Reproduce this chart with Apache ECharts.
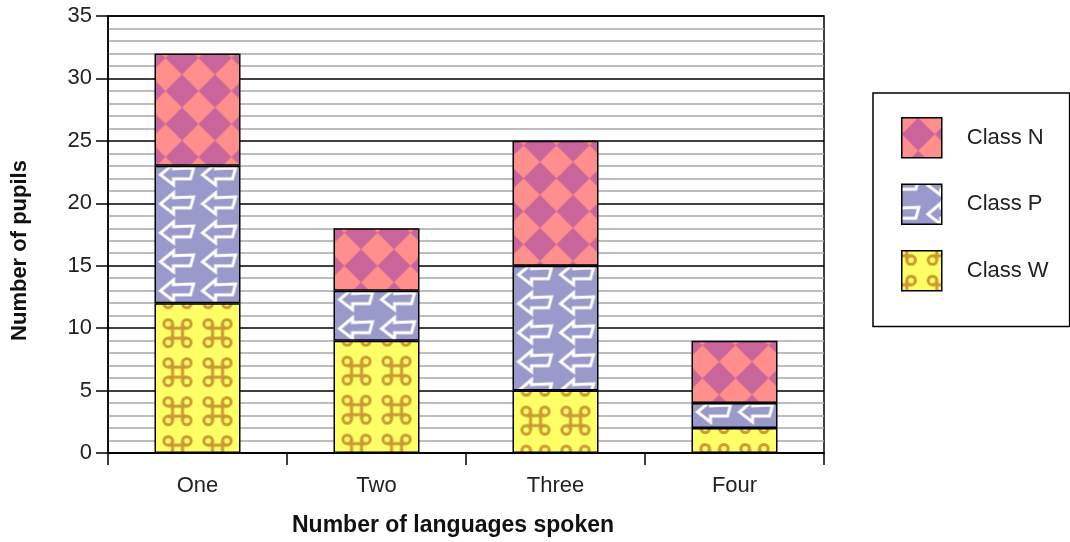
<!DOCTYPE html>
<html>
<head>
<meta charset="utf-8">
<script src="https://cdn.jsdelivr.net/npm/echarts@6/dist/echarts.min.js"></script>
<style>
  html, body { margin: 0; padding: 0; background: #fff; }
  #chart { width: 1070px; height: 542px; }
</style>
</head>
<body>
<div id="chart"></div>
<script>
// Pupils by number of languages spoken, stacked per class
const categories = ['One', 'Two', 'Three', 'Four'];
const classW = [12, 9, 5, 2];
const classP = [11, 4, 10, 2];
const classN = [9, 5, 10, 5];
const seriesNames = ['Class W', 'Class P', 'Class N'];
const legendOrder = ['Class N', 'Class P', 'Class W'];

// ---- fill patterns drawn on small tiles (motif centred on the tile origin) ----
function makeTile(w, h, draw) {
  const c = document.createElement('canvas');
  c.width = w; c.height = h;
  draw(c.getContext('2d'), w, h);
  return c;
}
function eachWrap(w, h, fn) {
  for (let i = -1; i <= 1; i++) for (let j = -1; j <= 1; j++) fn(i * w, j * h);
}

// rotated checkerboard: salmon diamonds on magenta
const tileN = makeTile(33, 33, (ctx, w, h) => {
  ctx.fillStyle = '#C9659B';
  ctx.fillRect(0, 0, w, h);
  ctx.fillStyle = '#FF8F8C';
  const r = 16.5;
  eachWrap(w, h, (x, y) => {
    ctx.beginPath();
    ctx.moveTo(x, y - r);
    ctx.lineTo(x + r, y);
    ctx.lineTo(x, y + r);
    ctx.lineTo(x - r, y);
    ctx.closePath();
    ctx.fill();
  });
});

// white outlined left arrows on lavender
const tileP = makeTile(42, 29, (ctx, w, h) => {
  ctx.fillStyle = '#9A99CB';
  ctx.fillRect(0, 0, w, h);
  ctx.strokeStyle = '#FFFFFF';
  ctx.lineWidth = 3;
  ctx.lineJoin = 'miter';
  eachWrap(w, h, (cx, cy) => {
    const ox = cx - 16, oy = cy - 11;
    ctx.beginPath();
    ctx.moveTo(ox + 0, oy + 12);
    ctx.lineTo(ox + 13, oy + 1);
    ctx.lineTo(ox + 13, oy + 6);
    ctx.lineTo(ox + 33, oy + 5);
    ctx.lineTo(ox + 30, oy + 16);
    ctx.lineTo(ox + 13, oy + 16);
    ctx.lineTo(ox + 13, oy + 22);
    ctx.closePath();
    ctx.stroke();
  });
});

// looped-square glyphs on yellow
const tileW = makeTile(40, 39, (ctx, w, h) => {
  ctx.fillStyle = '#FFFF66';
  ctx.fillRect(0, 0, w, h);
  ctx.strokeStyle = '#CC9933';
  ctx.lineWidth = 3;
  const hs = 5, r = 4.3, d = hs + r;
  eachWrap(w, h, (cx, cy) => {
    ctx.beginPath();
    ctx.moveTo(cx - hs, cy - d); ctx.lineTo(cx - hs, cy + d);
    ctx.moveTo(cx + hs, cy - d); ctx.lineTo(cx + hs, cy + d);
    ctx.moveTo(cx - d, cy - hs); ctx.lineTo(cx + d, cy - hs);
    ctx.moveTo(cx - d, cy + hs); ctx.lineTo(cx + d, cy + hs);
    ctx.stroke();
    [[-1, -1], [1, -1], [1, 1], [-1, 1]].forEach(([sx, sy]) => {
      ctx.beginPath();
      ctx.arc(cx + sx * d, cy + sy * d, r, 0, Math.PI * 2);
      ctx.stroke();
    });
  });
});

const tiles = { 'Class W': tileW, 'Class P': tileP, 'Class N': tileN };
// where the first motif sits inside each bar segment, from its top-left corner
const motifStart = { 'Class W': [23, 30], 'Class P': [22, 8], 'Class N': [11, 21] };
const values = { 'Class W': classW, 'Class P': classP, 'Class N': classN };

const FONT = 'Liberation Sans, Arial, sans-serif';
const BAR_W = 86;
const chart = echarts.init(document.getElementById('chart'), null, { renderer: 'canvas' });

function buildSeries(segmentPattern) {
  return seriesNames.map(name => ({
    name: name,
    type: 'bar',
    stack: 'pupils',
    barWidth: BAR_W,
    data: values[name].map((v, i) => segmentPattern
      ? { value: v, itemStyle: { color: segmentPattern(name, i) } }
      : v),
    itemStyle: {
      color: { image: tiles[name], repeat: 'repeat' },
      borderColor: '#000', borderWidth: 1.5
    },
    emphasis: { disabled: true }
  }));
}

chart.setOption({
  animation: false,
  backgroundColor: '#ffffff',
  grid: {
    left: 108, right: 246, top: 16, bottom: 89,
    show: true, borderColor: '#000', borderWidth: 1.5, backgroundColor: 'transparent'
  },
  legend: {
    data: legendOrder,
    orient: 'vertical',
    left: 873, top: 93,
    padding: [24, 21, 35, 28],
    itemWidth: 40, itemHeight: 40, itemGap: 25,
    borderColor: '#000', borderWidth: 1.5,
    icon: 'rect',
    itemStyle: { borderColor: '#000', borderWidth: 1.5 },
    textStyle: { fontFamily: FONT, fontSize: 22, color: '#222', padding: [0, 0, 0, 20] },
    selectedMode: false
  },
  xAxis: {
    type: 'category',
    data: categories,
    name: 'Number of languages spoken',
    nameLocation: 'middle',
    nameGap: 61,
    nameTextStyle: { fontFamily: FONT, fontSize: 23, fontWeight: 'bold', color: '#111', padding: [0, 26, 0, 0] },
    axisLine: { show: true, lineStyle: { color: '#000', width: 1.5 } },
    axisTick: { show: true, length: 12, lineStyle: { color: '#000', width: 1.5 } },
    axisLabel: { fontFamily: FONT, fontSize: 22, color: '#222', margin: 22 }
  },
  yAxis: {
    type: 'value',
    min: 0, max: 35, interval: 5,
    name: 'Number of pupils',
    nameLocation: 'middle',
    nameGap: 77,
    nameTextStyle: { fontFamily: FONT, fontSize: 22, fontWeight: 'bold', color: '#111', padding: [0, 32, 0, 0] },
    axisLine: { show: true, lineStyle: { color: '#000', width: 1.5 } },
    axisTick: { show: true, length: 12, lineStyle: { color: '#000', width: 1.5 } },
    axisLabel: { fontFamily: FONT, fontSize: 22, color: '#222', margin: 16 },
    splitLine: { show: true, lineStyle: { color: '#000', width: 1.5 } },
    minorTick: { show: false, splitNumber: 5 },
    minorSplitLine: { show: true, lineStyle: { color: '#a8a8a8', width: 1.5 } }
  },
  series: buildSeries(null)
});

// anchor each segment's pattern to its own top-left corner, found via the chart's scales
const cumulative = categories.map(() => 0);
const tops = {};
seriesNames.forEach(name => {
  tops[name] = values[name].map((v, i) => {
    cumulative[i] += v;
    return chart.convertToPixel({ gridIndex: 0 }, [i, cumulative[i]]);
  });
});
chart.setOption({
  series: buildSeries((name, i) => {
    const [cx, top] = tops[name][i];
    const [mx, my] = motifStart[name];
    return { image: tiles[name], repeat: 'repeat', x: cx - BAR_W / 2 + mx, y: top + my };
  })
});
</script>
</body>
</html>
